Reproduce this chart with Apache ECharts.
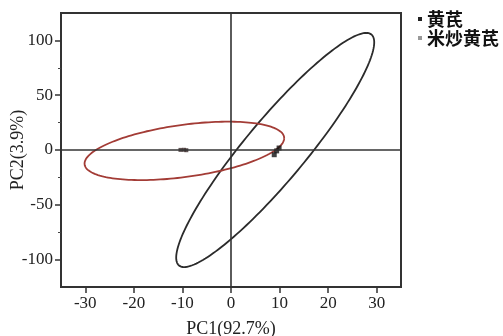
<!DOCTYPE html>
<html>
<head>
<meta charset="utf-8">
<script src="https://cdn.jsdelivr.net/npm/echarts@6/dist/echarts.min.js"></script>
<style>
  html, body { margin: 0; padding: 0; background: #fff; }
  #chart { width: 503px; height: 336px; }
</style>
</head>
<body>
<div id="chart"></div>
<script>
// 组别
const groups = ["黄芪", "米炒黄芪"];
const groupColors = ["#2b2b2b", "#a33c36"];
const legendColors = ["#222", "#999"];

// 置信椭圆参数: 中心, 纵向半轴向量, 共轭半轴向量
const centerX = [9.1, -9.6];
const centerY = [0, -0.8];
const axisUX = [18.75, 20.55];
const axisUY = [106.8, 11.6];
const axisVX = [8, 0];
const axisVY = [0, 24];

// 样本点
const pointsHQ = [[9.9, 1.8], [8.9, -4.3], [9.4, -0.8]];
const pointsMC = [[-9.7, 0.2], [-10.4, 0.1], [-9.2, -0.2]];

// 刻度
const xTicks = [-30, -20, -10, 0, 10, 20, 30];
const yTicks = [-100, -50, 0, 50, 100];
const yMinorTicks = [-75, -25, 25, 75];

const serif = "'Liberation Serif', 'DejaVu Serif', serif";

function ellipseItem(params, api) {
  const cx = api.value(0), cy = api.value(1);
  const ux = api.value(2), uy = api.value(3);
  const vx = api.value(4), vy = api.value(5);
  const pts = [];
  for (let i = 0; i <= 180; i++) {
    const t = (i / 180) * Math.PI * 2;
    const c = Math.cos(t), s = Math.sin(t);
    pts.push(api.coord([cx + ux * c + vx * s, cy + uy * c + vy * s]));
  }
  return {
    type: "polyline",
    shape: { points: pts },
    style: { stroke: api.visual("color"), lineWidth: 1.8, fill: null },
  };
}

const chart = echarts.init(document.getElementById("chart"));

const option = {
  animation: false,
  grid: {
    left: 61, right: 102, top: 13, bottom: 49,
    outerBoundsMode: "none",
    show: true, borderColor: "#333", borderWidth: 2,
  },
  legend: {
    orient: "vertical",
    left: 413,
    top: 5,
    itemWidth: 4,
    itemHeight: 4,
    itemGap: 1,
    icon: "rect",
    textStyle: {
      fontFamily: "'Noto Sans CJK SC'",
      fontWeight: "bold",
      fontSize: 18,
      lineHeight: 18,
      color: "#111",
    },
    data: groups.map((g, i) => ({ name: g, itemStyle: { color: legendColors[i] } })),
  },
  xAxis: {
    type: "value",
    min: -35,
    max: 35,
    name: "PC1(92.7%)",
    nameLocation: "middle",
    nameGap: 33,
    nameMoveOverlap: false,
    nameTextStyle: { fontFamily: serif, fontSize: 18, color: "#222" },
    axisLine: { onZero: false, lineStyle: { color: "#333", width: 2 } },
    axisTick: { customValues: xTicks, length: 6, lineStyle: { color: "#333", width: 1.5 } },
    axisLabel: { customValues: xTicks, margin: 8, fontFamily: serif, fontSize: 17, color: "#222" },
    splitLine: { show: false },
  },
  yAxis: [
    {
      type: "value",
      min: -125,
      max: 125,
      name: "PC2(3.9%)",
      nameLocation: "middle",
      nameGap: 34,
      nameMoveOverlap: false,
      nameTextStyle: { fontFamily: serif, fontSize: 18, color: "#222" },
      axisLine: { onZero: false, lineStyle: { color: "#333", width: 2 } },
      axisTick: { customValues: yTicks, length: 6, lineStyle: { color: "#333", width: 1.5 } },
      axisLabel: { customValues: yTicks, margin: 8, fontFamily: serif, fontSize: 17, color: "#222" },
      splitLine: { show: false },
    },
    {
      type: "value",
      min: -125,
      max: 125,
      position: "left",
      axisLine: { show: false, onZero: false },
      axisTick: { customValues: yMinorTicks, length: 3, lineStyle: { color: "#444", width: 1 } },
      axisLabel: { show: false },
      splitLine: { show: false },
    },
  ],
  series: [
    {
      name: groups[0],
      type: "custom",
      renderItem: ellipseItem,
      itemStyle: { color: groupColors[0] },
      data: [[centerX[0], centerY[0], axisUX[0], axisUY[0], axisVX[0], axisVY[0]]],
      z: 3,
    },
    {
      name: groups[1],
      type: "custom",
      renderItem: ellipseItem,
      itemStyle: { color: groupColors[1] },
      data: [[centerX[1], centerY[1], axisUX[1], axisUY[1], axisVX[1], axisVY[1]]],
      z: 3,
    },
    {
      name: groups[0],
      type: "scatter",
      symbol: "rect",
      symbolSize: 5,
      itemStyle: { color: "#111" },
      data: pointsHQ,
      z: 4,
      markLine: {
        silent: true,
        symbol: "none",
        label: { show: false },
        lineStyle: { color: "#333", width: 1.6, type: "solid" },
        data: [{ xAxis: 0 }, { yAxis: 0 }],
      },
    },
    {
      name: groups[1],
      type: "scatter",
      symbol: "rect",
      symbolSize: 4,
      itemStyle: { color: "#3a2a2a" },
      data: pointsMC,
      z: 4,
    },
  ],
};

chart.setOption(option);
</script>
</body>
</html>
